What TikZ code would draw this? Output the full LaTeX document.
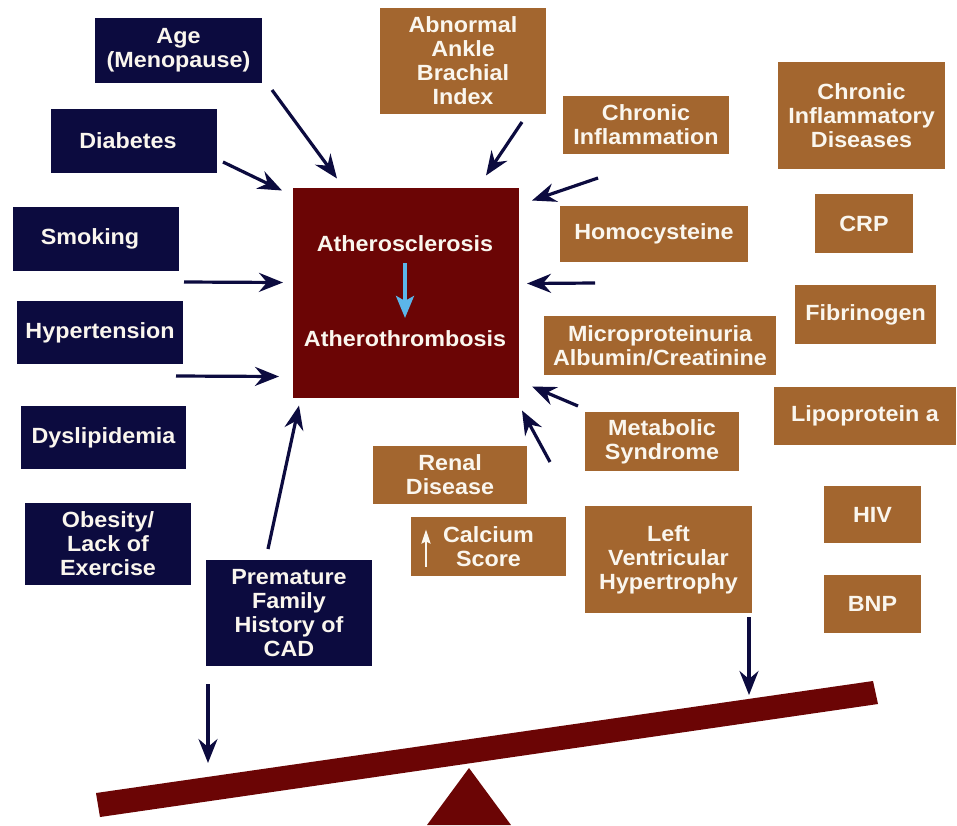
\documentclass[tikz,border=0pt]{standalone}
\usepackage{fontspec}
\setmainfont{Liberation Sans}[FakeStretch=1.06]
\usetikzlibrary{arrows.meta,calc}
\definecolor{navy}{HTML}{0C0B3F}
\definecolor{brownbox}{HTML}{A3662F}
\definecolor{maroon}{HTML}{6B0505}
\definecolor{skyarrow}{HTML}{5BB6EA}
\definecolor{txt}{HTML}{FAF6EE}
\begin{document}
\begin{tikzpicture}[x=1pt,y=-1pt,
  base/.style={inner sep=0pt, outer sep=0pt, align=center, text=txt,
    font=\fontsize{22}{24}\selectfont\bfseries},
  sz/.style 2 args={minimum width=#1pt, minimum height=#2pt},
  navybox/.style={base, fill=navy},
  brownb/.style={base, fill=brownbox},
  arr/.style={draw=navy, line width=3.2pt, -{Stealth[length=24pt,width=19pt,inset=8pt]}},
  bluearr/.style={draw=skyarrow, line width=3.4pt, -{Stealth[length=22pt,width=18pt,inset=5pt]}},
  whitearr/.style={draw=txt, line width=2pt, -{Stealth[length=14pt,width=9pt,inset=2pt]}},
  beam/.style={fill=maroon}
]
\fill[white] (0,0) rectangle (957,825);
\useasboundingbox (0,0) rectangle (957,825);

% left risk factors
\node[navybox, sz={167}{65}] (age) at (178.5,50.5) {Age\\(Menopause)};
\node[navybox, sz={166}{64}] (diab) at (134,141) {Diabetes\hspace*{12pt}};
\node[navybox, sz={166}{64}] (smk) at (96,239) {Smoking\hspace*{12pt}};
\node[navybox, sz={166}{63}] (hyp) at (100,332.5) {Hypertension};
\node[navybox, sz={165}{63}] (dys) at (103.5,437.5) {Dyslipidemia};
\node[navybox, sz={166}{82}] (obe) at (108,544) {Obesity/\\Lack of\\Exercise};
\node[navybox, sz={166}{106}] (pfh) at (289,613) {Premature\\Family\\History of\\CAD};

% centre
\node[base, fill=maroon, sz={226}{210}] (ath) at (406,292.5) {};
\node[base] (scl) at (405,244) {Atherosclerosis};
\node[base] (thr) at (405,339) {Atherothrombosis};
\draw[bluearr, shorten <=11pt, shorten >=13pt] (scl.south) -- (thr.north);

% brown factors
\node[brownb, sz={166}{106}] (abi) at (463,61) {Abnormal\\Ankle\\Brachial\\Index};
\node[brownb, sz={166}{58}] (ci) at (646,125) {Chronic\\Inflammation};
\node[brownb, sz={188}{56}] (hom) at (654,234) {Homocysteine};
\node[brownb, sz={232}{59}] (mic) at (660,345.5) {Microproteinuria\\Albumin/Creatinine};
\node[brownb, sz={154}{59}] (met) at (662,441.5) {Metabolic\\Syndrome};
\node[brownb, sz={154}{58}] (ren) at (450,475) {Renal\\Disease};
\node[brownb, sz={155}{59}] (cal) at (488.5,546.5) {Calcium\\Score};
\node[brownb, sz={167}{107}] (lvh) at (668.5,559.5) {Left\\Ventricular\\Hypertrophy};
\node[brownb, sz={167}{107}] (cid) at (861.5,115.5) {Chronic\\Inflammatory\\Diseases};
\node[brownb, sz={98}{59}] (crp) at (864,223.5) {CRP};
\node[brownb, sz={141}{59}] (fib) at (865.5,314.5) {Fibrinogen};
\node[brownb, sz={182}{58}] (lpa) at (865,416) {Lipoprotein a};
\node[brownb, sz={97}{57}] (hiv) at (872.5,514.5) {HIV};
\node[brownb, sz={97}{58}] (bnp) at (872.5,604) {BNP};
\draw[whitearr] ($(cal.west)+(15,20)$) -- ($(cal.west)+(15,-17)$);

% seesaw
\fill[beam] (96,793) -- (873,681) -- (878,704) -- (100,817) -- cycle;
\fill[beam] (469,768) -- (511,825) -- (427,825) -- cycle;
\coordinate (beamL) at (208,763);
\coordinate (beamR) at (749,695);

% arrows
\draw[arr] ($(age.south east)+(10,7)$) -- ($(ath.north west)+(44,-9)$);
\draw[arr] ($(diab.south east)+(6,-11)$) -- ($(ath.north west)+(-11,3)$);
\draw[arr] ($(smk.south east)+(5,11)$) -- ($(ath.north west)+(-10,95)$);
\draw[arr] ($(hyp.south east)+(-7,12)$) -- ($(ath.north west)+(-14,189)$);
\draw[arr] ($(pfh.north)+(-21,-11)$) -- ($(ath.south west)+(6,8)$);
\draw[arr] ($(abi.south east)+(-24,8)$) -- ($(ath.north east)+(-33,-12)$);
\draw[arr] ($(ci.south)+(-48,24)$) -- ($(ath.north east)+(13,13)$);
\draw[arr] ($(hom.south west)+(35,21)$) -- ($(ath.north east)+(8,96)$);
\draw[arr] ($(mic.south west)+(34,31)$) -- ($(ath.south east)+(13,-11)$);
\draw[arr] ($(ren.north east)+(23,16)$) -- ($(ath.south east)+(3,13)$);
\draw[arr] ($(pfh.south west)+(2,18)$) -- (beamL);
\draw[arr] ($(lvh.south east)+(-3,4)$) -- (beamR);
\end{tikzpicture}
\end{document}
